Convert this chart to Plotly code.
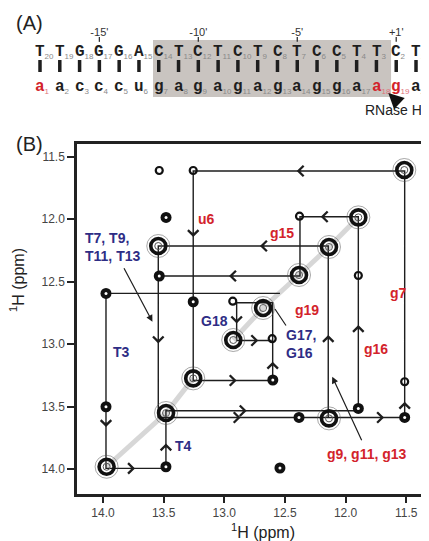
import plotly.graph_objects as go

# ---------------- Panel A data: DNA/RNA hybrid sequence ----------------
top_bases = ["T", "T", "G", "G", "G", "A", "C", "T", "C", "T",
             "C", "T", "C", "T", "C", "C", "T", "T", "C", "T"]
top_numbers = [20, 19, 18, 17, 16, 15, 14, 13, 12, 11,
               10, 9, 8, 7, 6, 5, 4, 3, 2, 1]
bottom_bases = ["a", "a", "c", "c", "c", "u", "g", "a", "g", "a",
                "g", "a", "g", "a", "g", "g", "a", "a", "g", "a"]
bottom_numbers = list(range(1, 21))
red_bottom_numbers = [1, 18, 19]
position_labels = ["-15'", "-10'", "-5'", "+1'"]
position_columns = [4, 9, 14, 19]
shaded_columns = [7, 18]

# ---------------- Panel B data: imino NOESY (ppm) ----------------
peak_x = [11.516, 11.895, 12.137, 12.384, 12.68, 12.926, 13.256, 13.48, 13.97,
          13.536, 13.256, 13.48, 13.544, 13.536, 13.975, 13.256, 12.93, 12.605,
          12.60, 13.975, 13.481, 12.541, 11.895, 11.895, 11.513, 11.513, 12.137,
          12.384, 12.38]
peak_y = [11.606, 11.985, 12.222, 12.446, 12.71, 12.966, 13.273, 13.55, 13.98,
          11.61, 11.61, 11.985, 12.214, 12.454, 12.593, 12.66, 12.655, 12.955,
          13.286, 13.50, 13.98, 13.99, 12.45, 13.513, 13.30, 13.585, 13.593,
          13.585, 11.975]
peak_strength = ["strong", "strong", "strong", "strong", "strong", "strong", "strong", "strong", "strong",
                 "weak", "weak", "medium", "strong", "medium", "medium", "medium", "weak", "weak",
                 "medium", "medium", "medium", "medium", "weak", "medium", "weak", "medium", "strong",
                 "medium", "weak"]

# sequential NOE walks (ppm)
walk_x = [12.143, 12.143, 13.544, 13.544, 11.513, 11.513, 13.256, 13.256, 12.601, 12.601, 12.898, 12.898, 12.609, None,
          13.975, 13.975, 13.481, 13.481, 11.895, 11.895, 12.376, 12.376, 13.536, None,
          12.541, 13.975]
walk_y = [13.586, 12.214, 12.214, 13.586, 13.586, 11.614, 11.614, 13.29, 13.29, 12.668, 12.668, 12.97, 12.97, None,
          12.593, 13.993, 13.993, 13.532, 13.532, 11.98, 11.98, 12.454, 12.454, None,
          12.593, 12.593]
arrow_x = [12.143, 12.706, 13.544, 12.865, 11.683, 11.513, 12.403, 13.256, 12.898, 12.601, 12.898, 12.72,
           13.975, 13.736, 13.481, 12.815, 11.895, 12.205, 12.961]
arrow_y = [12.926, 12.214, 12.993, 13.586, 13.586, 13.46, 11.614, 12.142, 13.29, 13.14, 12.833, 12.97,
           13.662, 13.993, 13.793, 13.532, 12.846, 11.98, 12.454]
arrow_dir = ["up", "left", "down", "right", "right", "up", "left", "down", "right", "up", "down", "right",
             "down", "right", "up", "right", "up", "left", "left"]

x_ticks = [14.0, 13.5, 13.0, 12.5, 12.0, 11.5]
y_ticks = [11.5, 12.0, 12.5, 13.0, 13.5, 14.0]

RED = "#d3232b"
BLUE = "#2e2d85"
INK = "#1e1e1e"

# page body adds an 8 px margin, so the figure is 8 px smaller and offset
OFF = 8
W, H = 429 - OFF, 541 - OFF


def px(x):
    return (x - OFF) / W


def py(y):
    return 1 - (y - OFF) / H


fig = go.Figure()

# ---------- Panel B spectrum ----------
diag_idx = [i for i, s in enumerate(peak_strength) if s == "strong"]
ridge_sets = [[8, 7, 6], [5, 4, 3, 2, 1]]
for rs in ridge_sets:
    fig.add_trace(go.Scatter(x=[peak_x[i] for i in rs], y=[peak_y[i] for i in rs], mode="lines",
                             line=dict(color="rgba(110,110,110,0.28)", width=5),
                             hoverinfo="skip", showlegend=False, xaxis="x", yaxis="y"))

fig.add_trace(go.Scatter(x=walk_x, y=walk_y, mode="lines", line=dict(color=INK, width=1.4),
                         hoverinfo="skip", showlegend=False, xaxis="x", yaxis="y"))

sx = [peak_x[i] for i in diag_idx]
sy = [peak_y[i] for i in diag_idx]
fig.add_trace(go.Scatter(x=sx, y=sy, mode="markers",
                         marker=dict(symbol="circle-open", size=23, color="rgba(80,80,80,0.5)", line=dict(width=1)),
                         hoverinfo="skip", showlegend=False))
fig.add_trace(go.Scatter(x=sx, y=sy, mode="markers",
                         marker=dict(symbol="circle-open", size=15, color="#111", line=dict(width=3.6)),
                         hoverinfo="skip", showlegend=False))
fig.add_trace(go.Scatter(x=sx, y=sy, mode="markers",
                         marker=dict(symbol="circle-open", size=7, color="#555", line=dict(width=1)),
                         hoverinfo="skip", showlegend=False))
mx = [peak_x[i] for i, s in enumerate(peak_strength) if s == "medium"]
my = [peak_y[i] for i, s in enumerate(peak_strength) if s == "medium"]
fig.add_trace(go.Scatter(x=mx, y=my, mode="markers",
                         marker=dict(symbol="circle", size=11, color="#111", line=dict(width=0)),
                         hoverinfo="skip", showlegend=False))
fig.add_trace(go.Scatter(x=mx, y=my, mode="markers",
                         marker=dict(symbol="circle", size=3, color="white", line=dict(width=0)),
                         hoverinfo="skip", showlegend=False))
wx = [peak_x[i] for i, s in enumerate(peak_strength) if s == "weak"]
wy = [peak_y[i] for i, s in enumerate(peak_strength) if s == "weak"]
fig.add_trace(go.Scatter(x=wx, y=wy, mode="markers",
                         marker=dict(symbol="circle-open", size=7, color="#111", line=dict(width=2.2)),
                         hoverinfo="skip", showlegend=False))

annotations = []
step = 0.05
for ax_, ay_, d in zip(arrow_x, arrow_y, arrow_dir):
    tx, ty = ax_, ay_
    if d == "left":
        tx = ax_ - step
    elif d == "right":
        tx = ax_ + step
    elif d == "up":
        ty = ay_ + step
    else:
        ty = ay_ - step
    annotations.append(dict(x=ax_, y=ay_, ax=tx, ay=ty, xref="x", yref="y", axref="x", ayref="y",
                            showarrow=True, arrowhead=4, arrowsize=1.7, arrowwidth=1.2,
                            arrowcolor=INK, text=""))

lab_font = dict(family="Liberation Sans", size=14, weight="bold")


def label(text, x, y, color, xanchor="center", align="center"):
    annotations.append(dict(x=x, y=y, xref="x", yref="y", text=text, showarrow=False,
                            xanchor=xanchor, yanchor="middle", align=align,
                            font=dict(color=color, **lab_font)))


label("u6", 13.145, 12.001, RED)
label("g15", 12.522, 12.113, RED)
label("g19", 12.316, 12.726, RED)
label("g7", 11.568, 12.593, RED)
label("g16", 11.752, 13.041, RED)
label("g9, g11, g13", 11.821, 13.878, RED)
label("T7, T9,<br>T11, T13", 14.165, 12.22, BLUE, xanchor="left", align="left")
label("T3", 13.846, 13.06, BLUE)
label("T4", 13.338, 13.812, BLUE)
label("G18", 13.077, 12.814, BLUE)
label("G17,<br>G16", 12.508, 13.0, BLUE, xanchor="left", align="left")

for (hx, hy, tx, ty, head) in [(13.592, 12.82, 13.833, 12.38, 2),
                               (12.582, 12.718, 12.483, 12.862, 0),
                               (12.11, 13.26, 11.862, 13.78, 2)]:
    annotations.append(dict(x=hx, y=hy, ax=tx, ay=ty, xref="x", yref="y", axref="x", ayref="y",
                            showarrow=True, arrowhead=head, arrowsize=1.1, arrowwidth=1.2,
                            arrowcolor=INK, text=""))

# axis titles
annotations.append(dict(x=px(263), y=py(531), xref="paper", yref="paper", xanchor="center", yanchor="middle",
                        text="<sup>1</sup>H (ppm)", showarrow=False,
                        font=dict(family="Liberation Sans", size=16, color="#222")))
annotations.append(dict(x=px(17), y=py(280), xref="paper", yref="paper", xanchor="center", yanchor="middle",
                        textangle=-90, text="<sup>1</sup>H (ppm)", showarrow=False,
                        font=dict(family="Liberation Sans", size=16, color="#222")))
# panel letters
for t, yy in [("(A)", 23), ("(B)", 144)]:
    annotations.append(dict(x=px(29), y=py(yy), xref="paper", yref="paper", xanchor="center", yanchor="middle",
                            text=t, showarrow=False,
                            font=dict(family="Liberation Sans", size=20, color="#222")))

# ---------- Panel A sequence ----------
seq_font = dict(family="Liberation Mono", size=16, weight="bold")
SUB = "font-size:8px;font-weight:normal;font-family:Liberation Sans"
cols = list(range(1, 21))
for c, b, n in zip(cols, top_bases, top_numbers):
    annotations.append(dict(x=c - 0.35, y=1, xref="x2", yref="y2", xanchor="left", yanchor="middle",
                            showarrow=False,
                            text=f"{b}<sub><span style='color:#8a8a8a;{SUB}'>{n}</span></sub>",
                            font=dict(color=INK, **seq_font)))
for c, b, n in zip(cols, bottom_bases, bottom_numbers):
    red = n in red_bottom_numbers
    main_c = RED if red else INK
    sub_c = "#e0707a" if red else "#8a8a8a"
    annotations.append(dict(x=c - 0.35, y=0, xref="x2", yref="y2", xanchor="left", yanchor="middle",
                            showarrow=False,
                            text=f"{b}<sub><span style='color:{sub_c};{SUB}'>{n}</span></sub>",
                            font=dict(color=main_c, **seq_font)))

bar_x, bar_y = [], []
for c in cols:
    bar_x += [c, c, None]
    bar_y += [0.771, 0.429, None]
fig.add_trace(go.Scatter(x=bar_x, y=bar_y, mode="lines", line=dict(color=INK, width=3.5),
                         hoverinfo="skip", showlegend=False, xaxis="x2", yaxis="y2"))
tick_x, tick_y = [], []
for c in position_columns:
    tick_x += [c, c, None]
    tick_y += [1.429, 1.29, None]
fig.add_trace(go.Scatter(x=tick_x, y=tick_y, mode="lines", line=dict(color="#333", width=1.3),
                         hoverinfo="skip", showlegend=False, xaxis="x2", yaxis="y2"))
fig.add_trace(go.Scatter(x=position_columns, y=[1.55] * len(position_columns), mode="text",
                         text=position_labels, textposition="middle center",
                         textfont=dict(family="Liberation Sans", size=11, color="#333"),
                         hoverinfo="skip", showlegend=False, xaxis="x2", yaxis="y2"))
annotations.append(dict(x=17.3, y=-0.657, xref="x2", yref="y2", xanchor="left", yanchor="middle",
                        text="RNase H", showarrow=False,
                        font=dict(family="Liberation Sans", size=14, color="#222")))
annotations.append(dict(x=18.6, y=-0.17, ax=19.15, ay=-0.47, xref="x2", yref="y2", axref="x2", ayref="y2",
                        showarrow=True, arrowhead=2, arrowsize=1.4, arrowwidth=2.2, arrowcolor="#111", text=""))

shapes = [dict(type="rect", xref="x2", yref="y2", x0=shaded_columns[0] - 0.29, x1=shaded_columns[1] + 0.74,
               y0=-0.286, y1=1.343, fillcolor="#c9c4c0", line=dict(width=0), layer="below")]

fig.update_layout(
    width=W, height=H, margin=dict(l=0, r=0, t=0, b=0, autoexpand=False),
    paper_bgcolor="white", plot_bgcolor="white", showlegend=False,
    annotations=annotations, shapes=shapes,
    xaxis=dict(domain=[px(77), px(427)], range=[14.214, 11.329], anchor="y",
               tickvals=x_ticks, ticktext=[f"{v:.1f}" for v in x_ticks], ticks="outside", ticklen=6,
               tickwidth=1.5, tickcolor="#222", showline=True, linewidth=2.5, linecolor="#222", mirror=True,
               showgrid=False, zeroline=False, tickfont=dict(family="Liberation Sans", size=12, color="#444")),
    yaxis=dict(domain=[py(494), py(144)], range=[14.198, 11.398], anchor="x",
               tickvals=y_ticks, ticktext=[f"{v:.1f}" for v in y_ticks], ticks="outside", ticklen=7,
               tickwidth=1.5, tickcolor="#222", showline=True, linewidth=2.5, linecolor="#222", mirror=True,
               showgrid=False, zeroline=False, tickfont=dict(family="Liberation Sans", size=12, color="#444")),
    xaxis2=dict(domain=[0, 1], range=[1 + (OFF - 40) / 19.79, 1 + (429 - 40) / 19.79],
                visible=False, anchor="y2"),
    yaxis2=dict(domain=[py(120), 1], range=[(87 - 120) / 35, (87 - OFF) / 35], visible=False, anchor="x2"),
)

fig.write_html("out.html")
